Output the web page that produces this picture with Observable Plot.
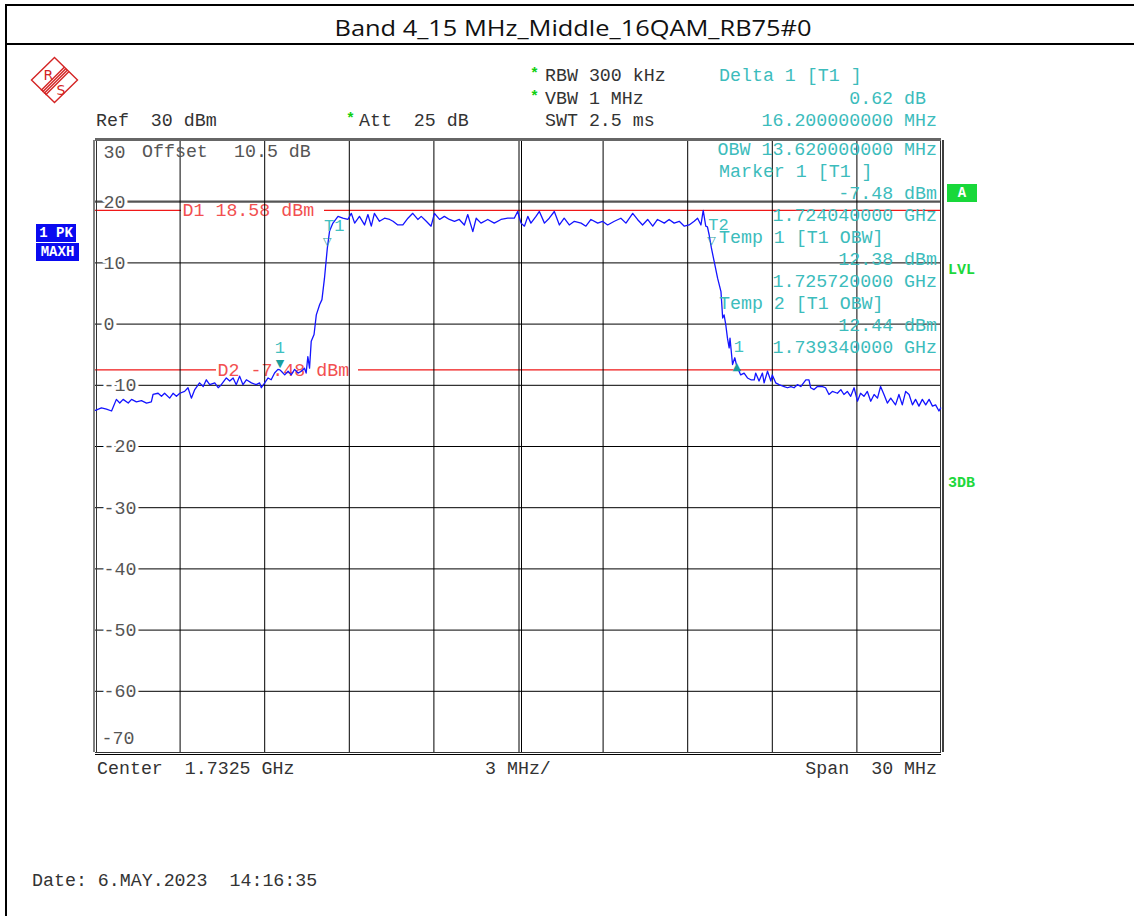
<!DOCTYPE html>
<html>
<head>
<meta charset="utf-8">
<script src="https://cdn.jsdelivr.net/npm/d3@7"></script>
<script src="https://cdn.jsdelivr.net/npm/@observablehq/plot@0.6"></script>
<style>
html,body{margin:0;padding:0;background:#fff;overflow:hidden;}
#page{position:relative;width:1134px;height:916px;overflow:hidden;}
#page svg.plotsvg{position:absolute;left:0;top:0;}
.t{position:absolute;font-family:"Liberation Mono","DejaVu Sans Mono",monospace;font-size:18.3px;line-height:18.3px;white-space:pre;color:#333;}
.c{color:#3cbcbc;}
.star{position:absolute;font-family:"Liberation Mono",monospace;font-weight:bold;font-size:15px;line-height:15px;color:#10d010;}
.box{position:absolute;font-family:"Liberation Mono",monospace;font-weight:bold;font-size:14px;color:#fff;text-align:center;white-space:pre;}
.grn{position:absolute;font-family:"Liberation Mono",monospace;font-weight:bold;font-size:15px;line-height:15px;color:#1ed83c;white-space:pre;}
.ln{position:absolute;background:#000;}
</style>
</head>
<body>
<div id="page"></div>
<script>
// ---------------- data ----------------
const traceMHz = [
1717.50,1717.54,1717.71,1717.89,1718.07,1718.24,1718.36,1718.48,1718.66,1718.78,1718.95,1719.13,1719.31,1719.48,1719.54,
1719.72,1719.84,1719.95,1720.13,1720.25,1720.37,1720.49,1720.66,1720.78,1720.90,1721.02,1721.19,1721.32,1721.43,1721.55,
1721.73,1721.85,1721.96,1722.14,1722.26,1722.38,1722.49,1722.61,1722.73,1722.85,1723.03,1723.20,1723.32,1723.38,1723.50,
1723.62,1723.73,1723.85,1723.97,1724.04,1724.09,1724.21,1724.33,1724.44,1724.56,1724.68,1724.80,1724.91,1724.97,1725.03,
1725.09,1725.15,1725.25,1725.33,1725.45,1725.53,1725.62,1725.72,1725.80,1725.92,1726.10,1726.27,1726.45,1726.57,1726.69,
1726.86,1727.04,1727.16,1727.28,1727.39,1727.57,1727.75,1727.93,1728.05,1728.22,1728.40,1728.58,1728.75,1728.93,1729.05,
1729.23,1729.40,1729.52,1729.70,1729.87,1730.05,1730.23,1730.40,1730.58,1730.70,1730.88,1731.00,1731.17,1731.41,1731.64,
1731.88,1732.12,1732.35,1732.47,1732.59,1732.71,1732.83,1732.94,1733.12,1733.24,1733.42,1733.59,1733.77,1733.95,1734.12,
1734.30,1734.48,1734.72,1734.89,1735.07,1735.31,1735.48,1735.66,1735.90,1736.13,1736.31,1736.55,1736.72,1736.90,1737.08,
1737.26,1737.43,1737.67,1737.84,1738.02,1738.20,1738.38,1738.55,1738.73,1738.85,1738.97,1739.05,1739.14,1739.20,1739.26,
1739.34,1739.44,1739.56,1739.68,1739.74,1739.79,1739.85,1739.91,1739.97,1740.00,1740.09,1740.17,1740.24,1740.38,1740.50,
1740.62,1740.74,1740.86,1740.91,1741.03,1741.15,1741.21,1741.33,1741.45,1741.50,1741.62,1741.74,1741.92,1742.04,1742.16,
1742.27,1742.39,1742.51,1742.69,1742.80,1742.86,1742.98,1743.10,1743.28,1743.39,1743.51,1743.63,1743.81,1743.93,1744.04,
1744.16,1744.28,1744.40,1744.52,1744.63,1744.75,1744.87,1744.99,1745.11,1745.23,1745.34,1745.46,1745.58,1745.70,1745.87,
1745.99,1746.11,1746.23,1746.35,1746.47,1746.58,1746.70,1746.82,1746.94,1747.06,1747.18,1747.29,1747.41,1747.47
];
const traceDBm = [
-14.1,-14.0,-13.7,-13.9,-14.2,-12.3,-12.9,-12.3,-12.9,-12.3,-12.7,-12.5,-12.9,-12.7,-11.5,
-11.3,-11.8,-11.3,-12.1,-11.3,-11.8,-11.3,-11.0,-10.4,-12.1,-10.7,-9.6,-10.2,-9.1,-9.9,
-9.6,-10.4,-9.9,-8.8,-9.3,-8.8,-9.9,-8.5,-9.9,-9.1,-9.6,-9.9,-9.6,-10.4,-9.6,
-8.8,-9.1,-8.0,-7.4,-7.48,-7.7,-8.3,-7.7,-8.3,-7.4,-8.0,-7.7,-7.2,-8.0,-5.3,
-7.2,-2.8,-1.7,1.5,3.2,4.0,7.5,12.38,15.2,16.5,17.6,17.3,17.1,18.1,16.5,
17.6,16.2,17.9,16.0,18.1,16.8,17.3,17.1,16.8,16.2,16.2,17.3,18.1,17.1,17.6,
16.8,16.0,18.1,17.1,17.6,17.1,16.8,17.1,16.2,17.9,15.1,17.3,16.5,17.1,16.5,
17.1,17.3,17.3,18.4,16.5,16.0,17.6,16.5,17.6,18.4,16.5,17.3,18.4,16.2,17.3,
16.2,16.8,16.5,16.0,17.1,16.5,16.8,16.2,16.8,17.3,16.5,18.1,17.1,16.2,17.1,
16.0,17.1,16.5,17.1,16.5,16.8,16.0,16.2,16.8,17.3,16.2,18.58,16.0,15.9,14.6,
12.44,10.2,7.5,5.3,1.0,1.5,-0.1,-2.3,-3.9,-2.3,-6.6,-5.5,-6.86,-8.3,-8.0,
-8.8,-9.1,-9.1,-8.0,-9.3,-8.0,-9.6,-7.7,-9.3,-8.3,-9.6,-9.9,-10.2,-10.4,-10.2,
-10.4,-9.9,-10.2,-9.1,-9.1,-10.4,-10.7,-10.2,-10.2,-10.4,-11.5,-11.0,-11.3,-10.7,-11.5,
-11.0,-11.8,-10.4,-12.6,-11.3,-11.8,-11.0,-12.6,-11.5,-12.1,-10.2,-11.5,-12.9,-12.1,-13.2,
-11.5,-13.2,-11.0,-11.5,-13.2,-12.3,-13.4,-12.3,-13.2,-12.3,-13.4,-13.2,-14.2,-13.7
];
const startMHz = 1717.5, stopMHz = 1747.5;
const refDBm = 30, bottomDBm = -70;
const gridDBm = [20, 10, 0, -10, -20, -30, -40, -50, -60];
const gridMHz = [1720.5, 1723.5, 1726.5, 1729.5, 1735.5, 1738.5, 1741.5, 1744.5];
const centerMHz = [1732.5];
const tickLabelsDBm = [20, 10, 0, -10, -20, -30, -40, -50, -60];
const displayLines = [{name: "D1", dBm: 18.58}, {name: "D2", dBm: -7.48}];
const tempMarkers = [{name: "T1", MHz: 1725.72, dBm: 12.38}, {name: "T2", MHz: 1739.34, dBm: 12.44}];
const normMarker = [{name: "1", MHz: 1724.04, dBm: -7.48}];
const deltaMarker = [{name: "1", MHz: 1740.24, dBm: -6.86}];

const title = "Band 4_15 MHz_Middle_16QAM_RB75#0";
const headerLeft = ["Ref  30 dBm", "Att  25 dB"];
const headerMid = ["RBW 300 kHz", "VBW 1 MHz", "SWT 2.5 ms"];
const markerInfo = ["Delta 1 [T1 ]", "0.62 dB", "16.200000000 MHz",
  "OBW 13.620000000 MHz", "Marker 1 [T1 ]", "-7.48 dBm", "1.724040000 GHz",
  "Temp 1 [T1 OBW]", "12.38 dBm", "1.725720000 GHz",
  "Temp 2 [T1 OBW]", "12.44 dBm", "1.739340000 GHz"];
const footer = ["Center  1.7325 GHz", "3 MHz/", "Span  30 MHz"];
const dateText = "Date: 6.MAY.2023  14:16:35";

// ---------------- chart ----------------
const trace = traceMHz.map((f, i) => ({f, v: traceDBm[i]}));
const mono = "Liberation Mono";
const L = () => startMHz;
const dLabel = d => `${d.name} ${d.dBm.toFixed(2)} dBm`;

const chart = Plot.plot({
  width: 1134, height: 916,
  marginLeft: 95, marginRight: 193, marginTop: 140, marginBottom: 164,
  x: {domain: [startMHz, stopMHz], axis: null},
  y: {domain: [bottomDBm, refDBm], axis: null},
  style: {background: "transparent", overflow: "visible"},
  marks: [
    Plot.ruleY(gridDBm.filter(d => d !== 20), {y: d => d, stroke: "#000", strokeWidth: 1, strokeOpacity: 1}),
    Plot.ruleY([20], {y: d => d, stroke: "#555", strokeWidth: 2.2}),
    Plot.text(tickLabelsDBm, {x: L, y: d => d, text: d => String(d), dx: 8, textAnchor: "start",
      fill: "#555", stroke: "#fff", strokeWidth: 6, fontFamily: mono, fontSize: 18.3}),
    Plot.text([refDBm], {x: L, y: d => d, text: d => String(d), dx: 8, dy: 12, textAnchor: "start",
      fill: "#555", fontFamily: mono, fontSize: 18.3}),
    Plot.text([bottomDBm], {x: L, y: d => d, text: d => String(d), dx: 6, dy: -14, textAnchor: "start",
      fill: "#555", fontFamily: mono, fontSize: 18.3}),
    // display lines, broken where their labels sit
    Plot.ruleY(displayLines.slice(0, 1), {y: "dBm", stroke: "#f01818", strokeWidth: 1.2, strokeDasharray: "86,143,2000"}),
    Plot.ruleY(displayLines.slice(1), {y: "dBm", stroke: "#f01818", strokeWidth: 1.2, strokeDasharray: "121,142,2000"}),
    Plot.text(displayLines.slice(0, 1), {x: L, y: "dBm", text: dLabel, dx: 87,
      textAnchor: "start", fill: "#f25050", fontFamily: mono, fontSize: 18.3}),
    Plot.text(displayLines.slice(1), {x: L, y: "dBm", text: dLabel, dx: 122,
      textAnchor: "start", fill: "#f25050", fontFamily: mono, fontSize: 18.3}),
    // vertical grid & frame
    Plot.ruleX(gridMHz, {x: d => d, stroke: "#000", strokeWidth: 1}),
    Plot.ruleX(centerMHz, {x: d => d, dx: 0.5, stroke: "#000", strokeWidth: 1}),
    Plot.ruleX(centerMHz, {x: d => d, dx: 3, stroke: "#000", strokeWidth: 1}),
    Plot.ruleX([startMHz], {x: d => d, dx: -1.5, stroke: "#000", strokeWidth: 1}),
    Plot.ruleX([startMHz], {x: d => d, dx: 1, stroke: "#333", strokeWidth: 1}),
    Plot.ruleX([stopMHz], {x: d => d, dx: -1, stroke: "#333", strokeWidth: 1}),
    Plot.ruleX([stopMHz], {x: d => d, dx: 1.5, stroke: "#000", strokeWidth: 1.5}),
    Plot.ruleY([refDBm], {y: d => d, stroke: "#666", strokeWidth: 3, dy: -1}),
    Plot.ruleY([bottomDBm], {y: d => d, stroke: "#333", strokeWidth: 1}),
    Plot.ruleY([bottomDBm], {y: d => d, dy: 2, stroke: "#000", strokeWidth: 1}),
    // trace
    Plot.line(trace, {x: "f", y: "v", stroke: "#1414ff", strokeWidth: 1.3, strokeLinejoin: "round"}),
    // markers
    Plot.text(tempMarkers, {x: "MHz", y: "dBm", text: () => "\u25BD", dy: -7, fill: "#1a9d9d",
      fontFamily: "DejaVu Sans", fontSize: 11, fontWeight: "bold"}),
    Plot.text(tempMarkers, {x: "MHz", y: "dBm", text: "name", dx: 7, dy: -23, fill: "#40c0c0",
      fontFamily: mono, fontSize: 17}),
    Plot.text(normMarker, {x: "MHz", y: "dBm", text: () => "\u25BC", dy: -6, fill: "#1a9d9d",
      fontFamily: "DejaVu Sans", fontSize: 11}),
    Plot.text(normMarker, {x: "MHz", y: "dBm", text: "name", dy: -22, fill: "#40c0c0",
      fontFamily: mono, fontSize: 17}),
    Plot.text(deltaMarker, {x: "MHz", y: "dBm", text: () => "\u25B2", dy: 0, fill: "#1a9d9d",
      fontFamily: "DejaVu Sans", fontSize: 11}),
    Plot.text(deltaMarker, {x: "MHz", y: "dBm", text: "name", dx: 2, dy: -20, fill: "#40c0c0",
      fontFamily: mono, fontSize: 17})
  ]
});
chart.classList.add("plotsvg");
const page = document.getElementById("page");
page.appendChild(chart);

// ---------------- page furniture ----------------
function line(x, y, w, h) {
  const d = document.createElement("div");
  d.className = "ln";
  Object.assign(d.style, {left: x + "px", top: y + "px", width: w + "px", height: h + "px"});
  page.appendChild(d);
}
function txt(s, x, y, cls, right) {
  const d = document.createElement("div");
  d.className = "t" + (cls ? " " + cls : "");
  d.textContent = s;
  d.style.top = (y - 9) + "px";
  if (right) d.style.right = (1134 - x) + "px"; else d.style.left = x + "px";
  page.appendChild(d);
  return d;
}
function el(cls, s, css) {
  const d = document.createElement("div");
  d.className = cls; d.textContent = s;
  Object.assign(d.style, css);
  page.appendChild(d);
  return d;
}
line(5, 4, 1129, 2);
line(5, 43, 1129, 2);
line(5, 4, 2, 912);

const ns = "http://www.w3.org/2000/svg";
const tsvg = document.createElementNS(ns, "svg");
tsvg.setAttribute("width", 1134); tsvg.setAttribute("height", 45);
tsvg.style.position = "absolute"; tsvg.style.left = "0"; tsvg.style.top = "0";
tsvg.innerHTML = `<text x="573" y="36" text-anchor="middle" font-family="Open Sans" font-size="22.5" fill="#111"
  textLength="477" lengthAdjust="spacingAndGlyphs"></text>`;
tsvg.querySelector("text").textContent = title;
page.appendChild(tsvg);

// logo
const logo = document.createElementNS(ns, "svg");
logo.setAttribute("width", 60); logo.setAttribute("height", 60);
logo.style.position = "absolute"; logo.style.left = "24px"; logo.style.top = "50px";
logo.innerHTML = `<g fill="none" stroke="#d42424" stroke-width="1.4">
  <path d="M30.5 7.5 L53.5 30 L30.5 52.5 L7.5 30 Z"/>
  <path d="M18.5 42 L42 18.5"/><path d="M20 43.5 L43.5 20"/><path d="M21.5 45 L45 21.5"/><path d="M17 40.5 L40.5 17"/>
  </g>
  <text x="19.5" y="30" font-family="DejaVu Sans" font-size="14" fill="#d42424">R</text>
  <text x="32.5" y="45" font-family="DejaVu Sans" font-size="14" fill="#d42424">S</text>`;
page.appendChild(logo);

// header
txt(headerLeft[0], 96, 121);
el("star", "*", {left: "346px", top: "112px"});
txt(headerLeft[1], 359, 121);
el("star", "*", {left: "530px", top: "67px"});
txt(headerMid[0], 545, 76);
el("star", "*", {left: "530px", top: "90px"});
txt(headerMid[1], 545, 99);
txt(headerMid[2], 545, 121);
txt(markerInfo[0], 719, 76, "c");
txt(markerInfo[1], 926, 99, "c", true);
txt(markerInfo[2], 937, 121, "c", true);
// in-plot text
txt("Offset", 142, 152, "g");
txt("10.5 dB", 234, 152, "g");
txt(markerInfo[3], 937, 150, "c", true);
txt(markerInfo[4], 719, 172, "c");
txt(markerInfo[5], 937, 194, "c", true);
txt(markerInfo[6], 937, 216, "c", true);
txt(markerInfo[7], 719, 238, "c");
txt(markerInfo[8], 937, 260, "c", true);
txt(markerInfo[9], 937, 282, "c", true);
txt(markerInfo[10], 719, 304, "c");
txt(markerInfo[11], 937, 326, "c", true);
txt(markerInfo[12], 937, 348, "c", true);
document.querySelectorAll(".g").forEach(d => d.style.color = "#555");

// side boxes
el("box", "1 PK", {left: "36px", top: "224px", width: "40px", height: "18px", lineHeight: "18px", background: "#0a0af0"});
el("box", "MAXH", {left: "36px", top: "243px", width: "43px", height: "18px", lineHeight: "18px", background: "#0a0af0"});
el("box", "A", {left: "947px", top: "184px", width: "30px", height: "18px", lineHeight: "18px", background: "#18d83a"});
el("grn", "LVL", {left: "948px", top: "263px"});
el("grn", "3DB", {left: "948px", top: "476px"});

// footer
txt(footer[0], 97, 769);
txt(footer[1], 485, 769);
txt(footer[2], 937, 769, "", true);
txt(dateText, 32, 881);
</script>
</body>
</html>
